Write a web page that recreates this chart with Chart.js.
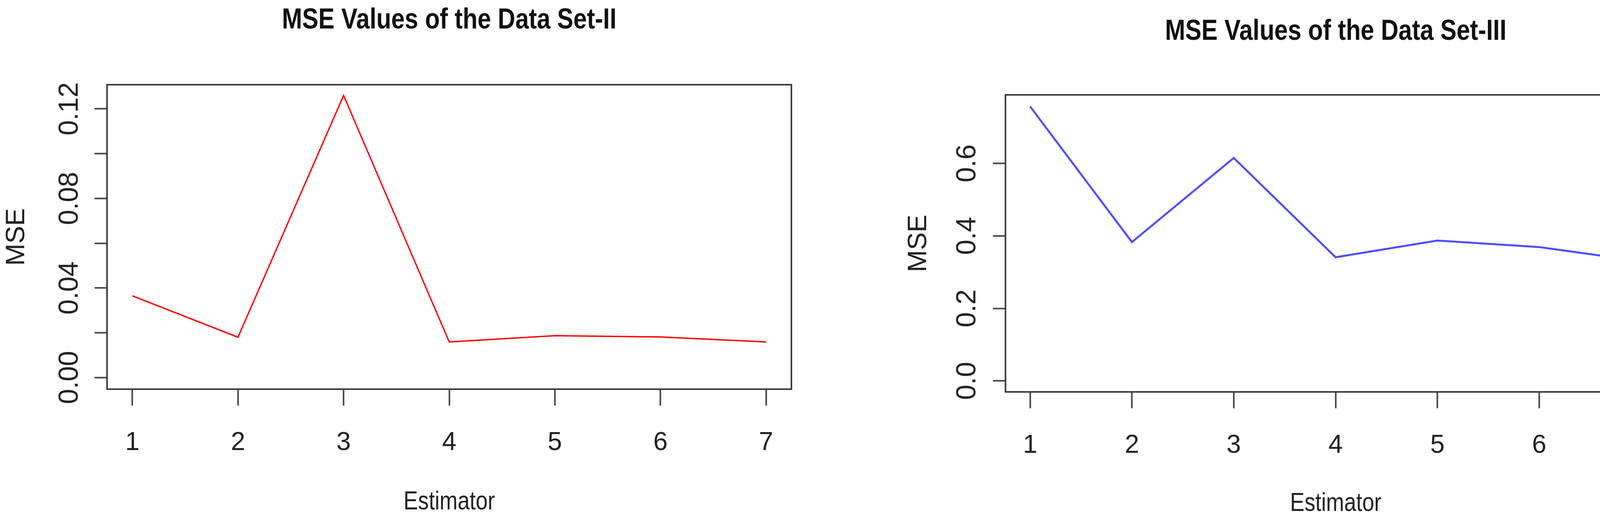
<!DOCTYPE html>
<html>
<head>
<meta charset="utf-8">
<script src="https://cdn.jsdelivr.net/npm/chart.js@4/dist/chart.umd.min.js"></script>
<style>
  body { margin: 0; background: #fff; overflow: hidden; }
  .box { position: absolute; top: 0; height: 1345px; }
</style>
</head>
<body>
<div class="box" style="left:0;width:2150px"><canvas id="c1"></canvas></div>
<div class="box" style="left:2150px;width:2145px"><canvas id="c2"></canvas></div>
<script>
const estimators = [1, 2, 3, 4, 5, 6, 7];
const mseSet2 = [0.0365, 0.018, 0.126, 0.0159, 0.0187, 0.0181, 0.0159];
const mseSet3 = [0.757, 0.383, 0.615, 0.341, 0.387, 0.369, 0.330];
const yTicks2 = [0, 0.02, 0.04, 0.06, 0.08, 0.10, 0.12];
const yLabels2 = ['0.00', '', '0.04', '', '0.08', '', '0.12'];
const yTicks3 = [0, 0.2, 0.4, 0.6];
const yLabels3 = ['0.0', '0.2', '0.4', '0.6'];

const font = "'Liberation Sans', Arial, sans-serif";

// schmaler Text (wie Arial Narrow in R)
function narrowText(ctx, txt, x, y, sx) {
    ctx.save();
    ctx.translate(x, y);
    ctx.scale(sx, 1);
    ctx.fillText(txt, 0, 0);
    ctx.restore();
}

// Rahmen, Titel, gedrehte y-Beschriftung
const rPlot = {
    id: 'rPlot',
    afterDraw(chart, args, o) {
        const ctx = chart.ctx, a = chart.chartArea, ys = chart.scales.y;
        ctx.save();
        ctx.strokeStyle = '#3a3a3a';
        ctx.lineWidth = 4;
        ctx.strokeRect(a.left, a.top, a.right - a.left, a.bottom - a.top);
        ctx.fillStyle = '#111';
        ctx.textAlign = 'center';
        ctx.textBaseline = 'middle';
        ctx.font = 'bold 74px ' + font;
        narrowText(ctx, o.title, (a.left + a.right) / 2, o.titleY, 0.84);
        ctx.fillStyle = '#222';
        ctx.font = '66px ' + font;
        narrowText(ctx, 'Estimator', (a.left + a.right) / 2, o.xTitleY, 0.84);
        ctx.font = '70px ' + font;
        o.ticks.forEach((v, i) => {
            if (!o.labels[i]) return;
            ctx.save();
            ctx.translate(o.labelX, ys.getPixelForValue(v));
            ctx.rotate(-Math.PI / 2);
            ctx.fillText(o.labels[i], 0, 0);
            ctx.restore();
        });
        ctx.font = '68px ' + font;
        ctx.save();
        ctx.translate(o.yTitleX, (a.top + a.bottom) / 2);
        ctx.rotate(-Math.PI / 2);
        ctx.fillText('MSE', 0, 0);
        ctx.restore();
        ctx.restore();
    }
};

function makeChart(id, values, color, width, xr, yr, ticks, labels, lay) {
    return new Chart(document.getElementById(id), {
        type: 'line',
        data: {
            datasets: [{
                data: estimators.map((e, i) => ({ x: e, y: values[i] })),
                borderColor: color,
                borderWidth: width,
                pointRadius: 0,
                tension: 0
            }]
        },
        options: {
            responsive: true,
            maintainAspectRatio: false,
            animation: false,
            layout: { padding: { top: lay.top, right: lay.right, left: 0, bottom: 0 } },
            plugins: {
                legend: { display: false },
                tooltip: { enabled: false },
                rPlot: { title: lay.title, titleY: lay.titleY, xTitleY: lay.xTitleY,
                         labelX: lay.labelX, yTitleX: lay.yTitleX, ticks: ticks, labels: labels }
            },
            scales: {
                x: {
                    type: 'linear', min: xr[0], max: xr[1],
                    afterBuildTicks: s => { s.ticks = estimators.map(v => ({ value: v })); },
                    afterFit: s => { s.height = 1345 - lay.bottom; },
                    border: { display: false },
                    grid: { drawOnChartArea: false, tickLength: 42, tickWidth: 4, color: '#444' },
                    ticks: { color: '#222', padding: 56, maxRotation: 0,
                             font: { size: 66, family: font } }
                },
                y: {
                    min: yr[0], max: yr[1],
                    afterBuildTicks: s => { s.ticks = ticks.map(v => ({ value: v })); },
                    afterFit: s => { s.width = lay.left; },
                    border: { display: false },
                    grid: { drawOnChartArea: false, tickLength: 32, tickWidth: 4, color: '#444' },
                    ticks: { display: false }
                }
            }
        },
        plugins: [rPlot]
    });
}

makeChart('c1', mseSet2, '#ff0000', 3.5, [0.76, 7.24], [-0.0052, 0.1308], yTicks2, yLabels2,
    { title: 'MSE Values of the Data Set-II', left: 274, right: 124, top: 217, bottom: 997,
      titleY: 53, xTitleY: 1287, labelX: 180, yTitleX: 43 });
makeChart('c2', mseSet3, '#4d4dff', 5, [0.758, 7.245], [-0.0304, 0.789], yTicks3, yLabels3,
    { title: 'MSE Values of the Data Set-III', left: 424, right: 30, top: 243, bottom: 1004,
      titleY: 82, xTitleY: 1291, labelX: 328, yTitleX: 202 });
</script>
</body>
</html>
